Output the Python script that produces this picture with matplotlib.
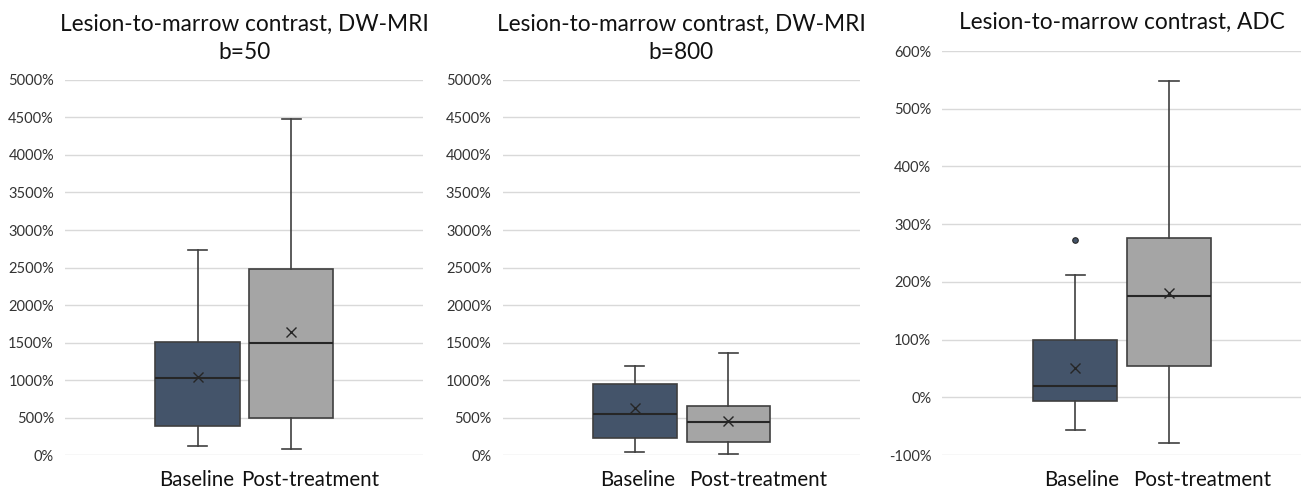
import matplotlib
matplotlib.use("Agg")
import matplotlib.pyplot as plt

plt.rcParams['font.family'] = ['Lato', 'DejaVu Sans']

groups = ['Baseline', 'Post-treatment']
titles = ['Lesion-to-marrow contrast, DW-MRI\nb=50',
          'Lesion-to-marrow contrast, DW-MRI\nb=800',
          'Lesion-to-marrow contrast, ADC']

# values in percent: whisker low, Q1, median, Q3, whisker high, mean
b50_base = [120, 387, 1031, 1502, 2733, 1036]
b50_post = [76, 493, 1498, 2484, 4476, 1640]
b800_base = [40, 231, 542, 947, 1191, 622]
b800_post = [13, 169, 444, 653, 1356, 458]
adc_base = [-56, -6, 19, 100, 212, 51]
adc_post = [-80, 55, 176, 276, 548, 181]
adc_base_outliers = [273]

panels = [
    (b50_base, b50_post, [], (0, 5000), 500),
    (b800_base, b800_post, [], (0, 5000), 500),
    (adc_base, adc_post, adc_base_outliers, (-100, 600), 100),
]

colors = ['#44546A', '#A5A5A5']
edge = '#3F3F3F'

axes_rects = [
    [0.0500, 0.0752, 0.2752, 0.7622],
    [0.3864, 0.0752, 0.2746, 0.7622],
    [0.7243, 0.0752, 0.2757, 0.8211],
]
label_x = [[0.367, 0.684], [0.379, 0.715], [0.388, 0.724]]
title_pad = [15, 15, 16]

fig = plt.figure(figsize=(13.01, 4.92), dpi=100)

for i, (base, post, outl, ylim, step) in enumerate(panels):
    ax = fig.add_axes(axes_rects[i])
    stats = []
    for vals, fl in [(base, outl), (post, [])]:
        stats.append(dict(whislo=vals[0], q1=vals[1], med=vals[2], q3=vals[3],
                          whishi=vals[4], mean=vals[5], fliers=fl))
    bp = ax.bxp(stats, positions=[0.37, 0.632], widths=0.235, capwidths=0.053,
                patch_artist=True, showmeans=True, manage_ticks=False,
                boxprops=dict(edgecolor=edge, linewidth=1.2),
                medianprops=dict(color='#262626', linewidth=1.5),
                whiskerprops=dict(color=edge, linewidth=1.2),
                capprops=dict(color=edge, linewidth=1.2),
                meanprops=dict(marker='x', markeredgecolor='#262626',
                               markersize=7, markeredgewidth=1.0),
                flierprops=dict(marker='o', markerfacecolor=colors[0],
                                markeredgecolor='#262626', markersize=4,
                                markeredgewidth=0.8))
    for patch, c in zip(bp['boxes'], colors):
        patch.set_facecolor(c)
    ax.set_xlim(0, 1)
    ax.set_ylim(*ylim)
    ticks = list(range(ylim[0], ylim[1] + 1, step))
    ax.set_yticks(ticks)
    ax.set_yticklabels([f'{t}%' for t in ticks])
    ax.set_xticks(label_x[i])
    ax.set_xticklabels(groups, fontsize=14.8, color='#111111')
    ax.tick_params(axis='x', length=0, pad=11)
    ax.tick_params(axis='y', length=0, pad=8, labelsize=10.5, labelcolor='#333333')
    ax.grid(axis='y', color='#D9D9D9', linewidth=1)
    ax.set_axisbelow(True)
    for s in ax.spines.values():
        s.set_visible(False)
    ax.set_title(titles[i], fontsize=16.3, pad=title_pad[i], linespacing=1.45,
                 color='#111111')

fig.savefig('out.png', dpi=100)
